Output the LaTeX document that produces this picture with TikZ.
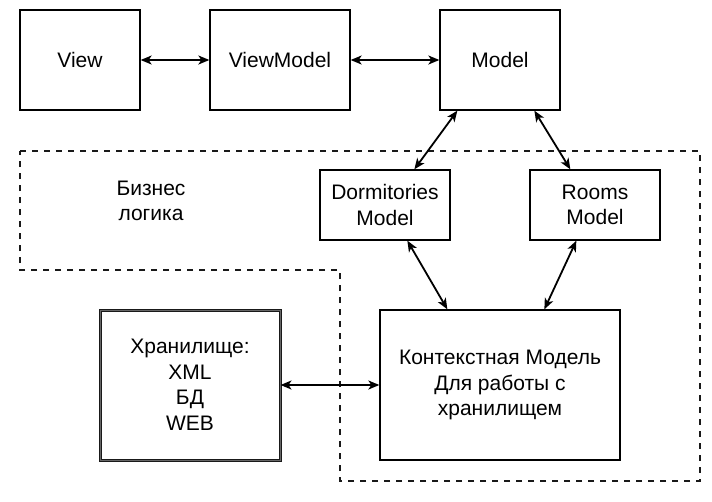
\documentclass[tikz,border=0pt]{standalone}
\usepackage{fontspec}
\setmainfont{Liberation Sans}
\usetikzlibrary{arrows.meta,calc}
\begin{document}
\begin{tikzpicture}[x=1pt,y=-1pt,
  box/.style={draw=black,line width=1.3pt,fill=white,rectangle,inner sep=0pt,align=center,
    font=\fontsize{21}{25.5}\selectfont},
  store/.style={draw=black!90,line width=1pt,double=black!60,double distance=1pt,rectangle,inner sep=0pt,align=center,
    font=\fontsize{21}{25.5}\selectfont},
  lbl/.style={inner sep=0pt,align=center,font=\fontsize{21}{25.5}\selectfont},
  link/.style={line width=1.8pt,{Stealth[length=11pt,width=9pt,inset=3pt]}-{Stealth[length=11pt,width=9pt,inset=3pt]}},
  region/.style={draw=black!90,line width=2pt,dash pattern=on 6pt off 6pt}]
\useasboundingbox (0,0) rectangle (712,501);
\fill[white] (0,0) rectangle (712,501);
% business logic region
\draw[region] (20,151) -- (700,151) -- (700,481) -- (340,481) -- (340,270) -- (20,270) -- cycle;
\node[lbl] (BL) at (151,201) {Бизнес\\логика};
% top row
\node[box,minimum width=120,minimum height=100] (V) at (80,60) {View};
\node[box,minimum width=140,minimum height=100] (VM) at (280,60) {ViewModel};
\node[box,minimum width=120,minimum height=100] (M) at (500,60) {Model};
% models
\node[box,minimum width=130,minimum height=70] (D) at (385,205) {Dormitories\\Model};
\node[box,minimum width=130,minimum height=70] (R) at (595,205) {Rooms\\Model};
% context model
\node[box,minimum width=240,minimum height=150] (K) at (500,385) {Контекстная Модель\\Для работы с\\хранилищем};
% storage
\node[store,minimum width=180,minimum height=150] (S) at (190,385) {Хранилище:\\XML\\БД\\WEB};
% connectors
\draw[link] (V.east) -- (VM.west);
\draw[link] (VM.east) -- (M.west);
\draw[link] ([xshift=18pt]M.south west) -- ([xshift=95pt]D.north west);
\draw[link] ([xshift=95pt]M.south west) -- ([xshift=41pt]R.north west);
\draw[link] ([xshift=88pt]D.south west) -- ([xshift=68pt]K.north west);
\draw[link] ([xshift=47pt]R.south west) -- ([xshift=165pt]K.north west);
\draw[link] (S.east) -- (K.west);
\end{tikzpicture}
\end{document}
